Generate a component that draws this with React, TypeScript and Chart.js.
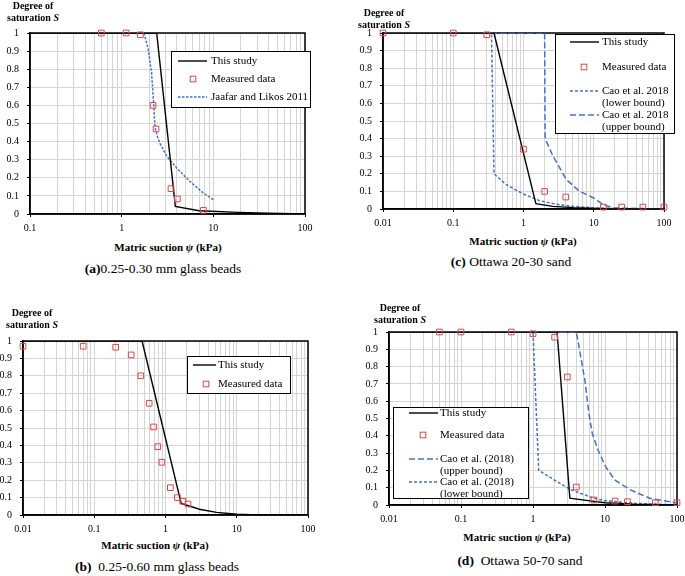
import React, { useEffect, useRef } from 'react';
import { Chart, registerables } from 'chart.js';
Chart.register(...registerables);

const FONT = '"Liberation Serif", "Times New Roman", serif';
const BLUE = 'rgb(68,114,196)';
const RED = 'rgb(222,70,70)';
const GRID = '#d4d4d4';

// ---------- shared tick values ----------
const yTickValues = [0, 0.1, 0.2, 0.3, 0.4, 0.5, 0.6, 0.7, 0.8, 0.9, 1];
const xDecadesA = [0.1, 1, 10, 100];
const xDecadesBCD = [0.01, 0.1, 1, 10, 100];

// ---------- (a) 0.25-0.30 mm glass beads ----------
const aStudyX = [0.1, 2.41, 3.85, 7.0, 18.6, 40, 100];
const aStudyS = [1, 1, 0.042, 0.018, 0.009, 0.004, 0];
const aMeasX = [0.6, 1.12, 1.6, 2.2, 2.37, 3.45, 4.05, 7.8];
const aMeasS = [1, 1, 0.99, 0.6, 0.47, 0.14, 0.083, 0.02];
const aJaafarX = [1.75, 1.95, 2.12, 2.22, 2.31, 2.45, 2.62, 3.1, 3.98, 5.56, 7.78, 10];
const aJaafarS = [1, 0.91, 0.78, 0.63, 0.48, 0.43, 0.39, 0.32, 0.254, 0.18, 0.116, 0.079];

// ---------- (b) 0.25-0.60 mm glass beads ----------
const bStudyX = [0.01, 0.469, 1.66, 3.0, 5.2, 10, 20];
const bStudyS = [1, 1, 0.067, 0.033, 0.015, 0.004, 0];
const bMeasX = [0.01, 0.07, 0.2, 0.33, 0.45, 0.59, 0.68, 0.78, 0.89, 1.17, 1.47, 1.75, 2.07];
const bMeasS = [0.97, 0.97, 0.964, 0.92, 0.8, 0.642, 0.506, 0.393, 0.303, 0.157, 0.1, 0.079, 0.063];

// ---------- (c) Ottawa 20-30 sand ----------
const cStudyX = [0.01, 0.38, 1.5, 2.6, 5.1, 15, 100];
const cStudyS = [1, 1, 0.03, 0.015, 0.0076, 0.002, 0];
const cMeasX = [0.01, 0.1, 0.3, 1, 2, 4, 13.7, 25, 50, 100];
const cMeasS = [1, 1, 0.99, 0.34, 0.1, 0.068, 0.011, 0.011, 0.011, 0.011];
const cLowerX = [0.01, 0.35, 0.38, 0.57, 1, 1.7, 2.9, 5.1, 10, 25, 100];
const cLowerS = [1, 1, 0.2, 0.138, 0.085, 0.047, 0.027, 0.015, 0.006, 0.002, 0];
const cUpperX = [0.01, 2.0, 2.03, 2.63, 4.08, 6.3, 10, 13.6, 18.8, 100];
const cUpperS = [1, 1, 0.4, 0.3, 0.167, 0.1, 0.0625, 0.025, 0.006, 0];

// ---------- (d) Ottawa 50-70 sand ----------
const dStudyX = [0.01, 2.16, 3.25, 7, 10, 25, 100];
const dStudyS = [1, 1, 0.039, 0.021, 0.013, 0.004, 0];
const dMeasX = [0.05, 0.1, 0.5, 1, 2, 3, 4, 7, 13.8, 20.5, 50, 100];
const dMeasS = [1, 1, 1, 0.99, 0.97, 0.74, 0.104, 0.029, 0.023, 0.019, 0.0135, 0.0135];
const dUpperX = [0.01, 4.0, 5.26, 5.97, 6.65, 8.0, 10.2, 13.6, 22.6, 42, 100];
const dUpperS = [1, 1, 0.72, 0.53, 0.415, 0.318, 0.222, 0.145, 0.087, 0.039, 0.012];
const dLowerX = [0.01, 1.0, 1.2, 2.16, 3.3, 7.0, 10, 25, 100];
const dLowerS = [1, 1, 0.2, 0.135, 0.09, 0.039, 0.025, 0.01, 0];

// ---------- styles ----------
const DASH_SHORT = [3, 2];
const DASH_LONG = [6, 3];
const DASH_JL = [2.5, 1.5];

type Kind = 'solid' | 'measured' | 'dash';
type Series = { label: string; x: number[]; y: number[]; kind: Kind; dash?: number[] };
type LegendEntry = { kind: Kind; dash?: number[]; text: string[]; y: number };
type PanelCfg = {
  L: number; T: number; R: number; B: number;
  xmin: number; xmax: number; decades: number[];
  series: Series[];
  legend: { box: number[]; sample: number[]; squareX: number; textX: number; entries: LegendEntry[] };
};

const Y_AXIS_W = 30;
const X_AXIS_H = 22;
const PAD_TOP = 16;
const PAD_RIGHT = 16;

const panels: PanelCfg[] = [
  {
    L: 30, T: 33, R: 305, B: 214, xmin: 0.1, xmax: 100, decades: xDecadesA,
    series: [
      { label: 'This study', x: aStudyX, y: aStudyS, kind: 'solid' },
      { label: 'Measured data', x: aMeasX, y: aMeasS, kind: 'measured' },
      { label: 'Jaafar and Likos 2011', x: aJaafarX, y: aJaafarS, kind: 'dash', dash: DASH_JL },
    ],
    legend: {
      box: [171, 51, 310, 107], sample: [178, 207], squareX: 193, textX: 211,
      entries: [
        { kind: 'solid', text: ['This study'], y: 61 },
        { kind: 'measured', text: ['Measured data'], y: 79 },
        { kind: 'dash', dash: DASH_JL, text: ['Jaafar and Likos 2011'], y: 97 },
      ],
    },
  },
  {
    L: 383, T: 33, R: 664, B: 209, xmin: 0.01, xmax: 100, decades: xDecadesBCD,
    series: [
      { label: 'This study', x: cStudyX, y: cStudyS, kind: 'solid' },
      { label: 'Measured data', x: cMeasX, y: cMeasS, kind: 'measured' },
      { label: 'Cao et al. 2018 (lower bound)', x: cLowerX, y: cLowerS, kind: 'dash', dash: DASH_SHORT },
      { label: 'Cao et al. 2018 (upper bound)', x: cUpperX, y: cUpperS, kind: 'dash', dash: DASH_LONG },
    ],
    legend: {
      box: [555, 34, 674, 133], sample: [570, 599], squareX: 584, textX: 602,
      entries: [
        { kind: 'solid', text: ['This study'], y: 42 },
        { kind: 'measured', text: ['Measured data'], y: 67 },
        { kind: 'dash', dash: DASH_SHORT, text: ['Cao et al. 2018', '(lower bound)'], y: 91 },
        { kind: 'dash', dash: DASH_LONG, text: ['Cao et al. 2018', '(upper bound)'], y: 115 },
      ],
    },
  },
  {
    L: 23, T: 341, R: 308, B: 515, xmin: 0.01, xmax: 100, decades: xDecadesBCD,
    series: [
      { label: 'This study', x: bStudyX, y: bStudyS, kind: 'solid' },
      { label: 'Measured data', x: bMeasX, y: bMeasS, kind: 'measured' },
    ],
    legend: {
      box: [187, 356, 290, 393], sample: [193, 216], squareX: 206, textX: 218,
      entries: [
        { kind: 'solid', text: ['This study'], y: 365 },
        { kind: 'measured', text: ['Measured data'], y: 384 },
      ],
    },
  },
  {
    L: 389, T: 332, R: 677, B: 505, xmin: 0.01, xmax: 100, decades: xDecadesBCD,
    series: [
      { label: 'This study', x: dStudyX, y: dStudyS, kind: 'solid' },
      { label: 'Measured data', x: dMeasX, y: dMeasS, kind: 'measured' },
      { label: 'Cao et al. (2018) (upper bound)', x: dUpperX, y: dUpperS, kind: 'dash', dash: DASH_LONG },
      { label: 'Cao et al. (2018) (lower bound)', x: dLowerX, y: dLowerS, kind: 'dash', dash: DASH_SHORT },
    ],
    legend: {
      box: [393, 407, 528, 498], sample: [409, 438], squareX: 423, textX: 440,
      entries: [
        { kind: 'solid', text: ['This study'], y: 413 },
        { kind: 'measured', text: ['Measured data'], y: 435 },
        { kind: 'dash', dash: DASH_LONG, text: ['Cao et al. (2018)', '(upper bound)'], y: 459 },
        { kind: 'dash', dash: DASH_SHORT, text: ['Cao et al. (2018)', '(lower bound)'], y: 482 },
      ],
    },
  },
];

function isDecade(v: number) {
  const l = Math.log10(v);
  return Math.abs(l - Math.round(l)) < 1e-9;
}

function logTicks(min: number, max: number) {
  const out: number[] = [];
  const e0 = Math.floor(Math.log10(min) + 1e-9);
  const e1 = Math.ceil(Math.log10(max) - 1e-9);
  for (let e = e0; e <= e1; e++) {
    for (let k = 1; k <= 9; k++) {
      const v = parseFloat((k * Math.pow(10, e)).toPrecision(12));
      if (v >= min - 1e-12 && v <= max + 1e-12) out.push(v);
    }
  }
  return out;
}

function Panel({ cfg }: { cfg: PanelCfg }) {
  const ref = useRef<HTMLCanvasElement>(null);
  const cLeft = cfg.L - Y_AXIS_W;
  const cTop = cfg.T - PAD_TOP;
  const w = cfg.R - cfg.L + Y_AXIS_W + PAD_RIGHT;
  const h = cfg.B - cfg.T + PAD_TOP + X_AXIS_H;

  useEffect(() => {
    if (!ref.current) return;
    const tickFont = { family: FONT, size: 10 };

    const framePlugin = {
      id: 'frame',
      beforeDatasetsDraw(chart: any) {
        const { left, top, right, bottom } = chart.chartArea;
        const ctx = chart.ctx;
        ctx.save();
        ctx.strokeStyle = '#000';
        ctx.lineWidth = 1.5;
        ctx.strokeRect(left, top, right - left, bottom - top);
        ctx.restore();
      },
    };

    const legendPlugin = {
      id: 'boxLegend',
      afterDraw(chart: any) {
        const ctx = chart.ctx;
        const lg = cfg.legend;
        const ox = cLeft, oy = cTop;
        ctx.save();
        const [x0, y0, x1, y1] = lg.box;
        ctx.fillStyle = '#fff';
        ctx.fillRect(x0 - ox, y0 - oy, x1 - x0, y1 - y0);
        ctx.strokeStyle = '#000';
        ctx.lineWidth = 1;
        ctx.strokeRect(x0 - ox + 0.5, y0 - oy + 0.5, x1 - x0, y1 - y0);
        ctx.font = `11px ${FONT}`;
        ctx.textBaseline = 'middle';
        ctx.textAlign = 'left';
        for (const e of lg.entries) {
          const y = e.y - oy;
          if (e.kind === 'measured') {
            ctx.setLineDash([]);
            ctx.strokeStyle = RED;
            ctx.lineWidth = 1;
            ctx.strokeRect(lg.squareX - ox - 2.8, y - 2.8, 5.6, 5.6);
          } else {
            ctx.beginPath();
            ctx.setLineDash(e.kind === 'dash' ? (e.dash || []) : []);
            ctx.strokeStyle = e.kind === 'dash' ? BLUE : '#000';
            ctx.lineWidth = e.kind === 'dash' ? 1.5 : 1.4;
            ctx.moveTo(lg.sample[0] - ox, y);
            ctx.lineTo(lg.sample[1] - ox, y);
            ctx.stroke();
          }
          ctx.setLineDash([]);
          ctx.fillStyle = '#000';
          e.text.forEach((t, i) => ctx.fillText(t, lg.textX - ox, y + i * 12.5));
        }
        ctx.restore();
      },
    };

    const datasets = cfg.series.map((s) => {
      const data = s.x.map((x, i) => ({ x, y: s.y[i] }));
      if (s.kind === 'measured') {
        return {
          label: s.label, data, showLine: false,
          pointStyle: 'rect', pointRadius: 4, pointBorderWidth: 1,
          borderColor: RED, pointBorderColor: RED,
          backgroundColor: 'rgba(0,0,0,0)', pointBackgroundColor: 'rgba(0,0,0,0)',
          clip: false, order: 0,
        };
      }
      return {
        label: s.label, data, showLine: true, tension: 0,
        borderColor: s.kind === 'dash' ? BLUE : '#000',
        borderWidth: s.kind === 'dash' ? 1.5 : 1.4,
        borderDash: s.kind === 'dash' ? s.dash : [],
        pointRadius: 0, fill: false, order: 1,
      };
    });

    const chart = new Chart(ref.current, {
      type: 'scatter',
      data: { datasets } as any,
      options: {
        responsive: false,
        animation: false,
        events: [],
        layout: { padding: { top: PAD_TOP, right: PAD_RIGHT, left: 0, bottom: 0 } },
        plugins: { legend: { display: false }, tooltip: { enabled: false }, title: { display: false } },
        scales: {
          x: {
            type: 'logarithmic', min: cfg.xmin, max: cfg.xmax,
            afterBuildTicks: (scale: any) => {
              scale.ticks = logTicks(cfg.xmin, cfg.xmax).map((v) => ({ value: v }));
            },
            afterFit: (scale: any) => { scale.height = X_AXIS_H; },
            ticks: {
              autoSkip: false, maxRotation: 0, minRotation: 0, padding: 5,
              color: '#000', font: tickFont,
              callback: (v: any) => {
                const n = Number(v);
                const d = cfg.decades.find((dv) => Math.abs(dv - n) < 1e-9 * Math.max(1, dv));
                return d !== undefined && isDecade(n) ? String(d) : '';
              },
            },
            grid: {
              color: GRID, lineWidth: 1, tickLength: 3,
              tickColor: (ctx: any) => (ctx.tick && isDecade(ctx.tick.value) ? '#000' : 'rgba(0,0,0,0)'),
            },
            border: { color: '#000', width: 1.5 },
          },
          y: {
            type: 'linear', min: 0, max: 1,
            afterBuildTicks: (scale: any) => {
              scale.ticks = yTickValues.map((v) => ({ value: v }));
            },
            afterFit: (scale: any) => { scale.width = Y_AXIS_W; },
            ticks: {
              padding: 8, color: '#000', font: tickFont,
              callback: (v: any) => String(Math.round(Number(v) * 10) / 10),
            },
            grid: { color: GRID, lineWidth: 1, tickLength: 3, tickColor: '#000' },
            border: { color: '#000', width: 1.5 },
          },
        },
      } as any,
      plugins: [framePlugin, legendPlugin],
    });
    return () => chart.destroy();
  }, []);

  return (
    <canvas
      ref={ref}
      width={w}
      height={h}
      style={{ position: 'absolute', left: cLeft, top: cTop, width: w, height: h }}
    />
  );
}

function YTitle({ cx, cy }: { cx: number; cy: number }) {
  return (
    <div style={{
      position: 'absolute', left: cx - 60, top: cy - 6, width: 120, textAlign: 'center',
      fontFamily: FONT, fontWeight: 'bold', fontSize: 10, lineHeight: '12px', whiteSpace: 'nowrap',
    }}>
      Degree of<br />saturation <i>S</i>
    </div>
  );
}

function XTitle({ cx, cy }: { cx: number; cy: number }) {
  return (
    <div style={{
      position: 'absolute', left: cx - 100, top: cy - 7, width: 200, textAlign: 'center',
      fontFamily: FONT, fontWeight: 'bold', fontSize: 11, lineHeight: '14px', whiteSpace: 'nowrap',
    }}>
      Matric suction <i>ψ</i> (kPa)
    </div>
  );
}

function Caption({ cx, cy, tag, text }: { cx: number; cy: number; tag: string; text: string }) {
  return (
    <div style={{
      position: 'absolute', left: cx - 120, top: cy - 8, width: 240, textAlign: 'center',
      fontFamily: FONT, fontSize: 13.5, lineHeight: '16px', whiteSpace: 'pre',
    }}>
      <b>{tag}</b>{text}
    </div>
  );
}

export default function App() {
  return (
    <div style={{ position: 'absolute', left: 0, top: 0, width: 685, height: 576, background: '#fff', overflow: 'hidden' }}>
      {panels.map((p, i) => <Panel key={i} cfg={p} />)}
      <YTitle cx={33} cy={6} />
      <YTitle cx={384} cy={13} />
      <YTitle cx={32} cy={313} />
      <YTitle cx={400} cy={308} />
      <XTitle cx={168} cy={247} />
      <XTitle cx={523} cy={241} />
      <XTitle cx={155} cy={545} />
      <XTitle cx={517} cy={537} />
      <Caption cx={163} cy={269} tag="(a)" text="0.25-0.30 mm glass beads" />
      <Caption cx={511} cy={262} tag="(c)" text=" Ottawa 20-30 sand" />
      <Caption cx={157} cy={567} tag="(b)" text="  0.25-0.60 mm glass beads" />
      <Caption cx={520} cy={561} tag="(d)" text="  Ottawa 50-70 sand" />
    </div>
  );
}
